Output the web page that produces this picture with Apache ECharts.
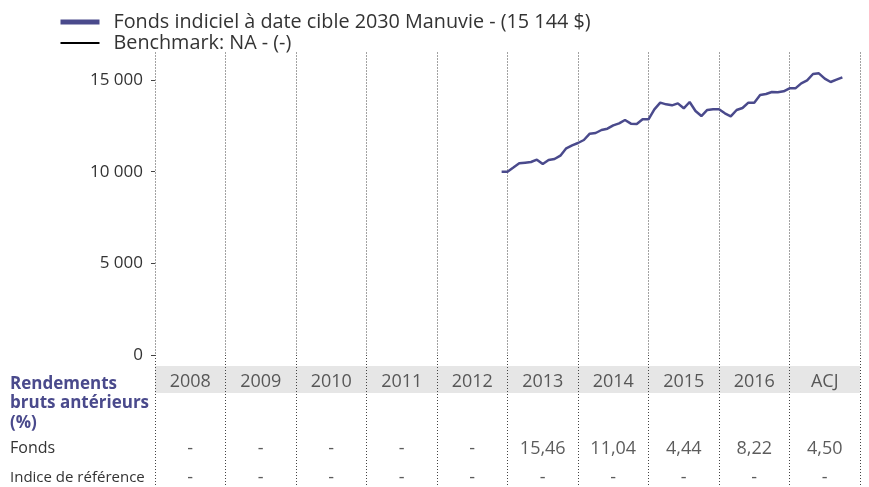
<!DOCTYPE html>
<html>
<head>
<meta charset="utf-8">
<script src="https://cdn.jsdelivr.net/npm/echarts@6/dist/echarts.min.js"></script>
<style>
html,body{margin:0;padding:0;background:#fff;}
#chart{width:869px;height:487px;}
</style>
</head>
<body>
<div id="chart"></div>
<script>
const fundName = 'Fonds indiciel à date cible 2030 Manuvie - (15 144 $)';
const benchName = 'Benchmark: NA - (-)';
const years = ['2008','2009','2010','2011','2012','2013','2014','2015','2016','ACJ'];
const fundReturns = ['-','-','-','-','-','15,46','11,04','4,44','8,22','4,50'];
const benchReturns = ['-','-','-','-','-','-','-','-','-','-'];
const yTicks = [0, 5000, 10000, 15000];
const firstYear = 2008;
const startMonth = '2012-12';
const fundValues = [
  10000, 10000, 10227, 10455, 10491, 10527, 10655, 10418, 10636, 10691,
  10873, 11273, 11436, 11564, 11727, 12073, 12109, 12273, 12345, 12527,
  12636, 12818, 12618, 12600, 12855, 12855, 13400, 13764, 13673, 13618,
  13727, 13455, 13800, 13309, 13036, 13364, 13400, 13400, 13182, 13018,
  13364, 13473, 13764, 13764, 14182, 14236, 14345, 14327, 14382, 14545,
  14545, 14818, 14982, 15327, 15364, 15073, 14891, 15018, 15144
];

const purple = '#4a4a8c';
const textColor = '#333333';
const font = 'Open Sans';

const [sy, sm] = startMonth.split('-').map(Number);
const startIndex = (sy - firstYear) * 12 + (sm - 1);
const fundData = fundValues.map((v, i) => [startIndex + i, v]);

const fmt = v => String(v).replace(/\B(?=(\d{3})+(?!\d))/g, ' ');

// table layout rows (px offsets within the table grid)
const rowYear = 27, rowFund = 94, rowBench = 123;
const tableData = [];
years.forEach((y, i) => tableData.push([i, rowYear, y]));
fundReturns.forEach((t, i) => tableData.push([i, rowFund, t]));
benchReturns.forEach((t, i) => tableData.push([i, rowBench, t]));

const dotted = { type: [1, 2], color: '#444', width: 1 };
const hiddenSymbol = { color: 'rgba(0,0,0,0)', borderColor: 'rgba(0,0,0,0)', borderWidth: 0 };

const chart = echarts.init(document.getElementById('chart'));
chart.setOption({
  animation: false,
  textStyle: { fontFamily: font, color: textColor },
  legend: {
    orient: 'vertical',
    left: 53,
    top: 7,
    itemWidth: 39,
    itemHeight: 14,
    itemGap: 1,
    padding: 5,
    textStyle: { fontFamily: font, fontSize: 19.8, color: textColor, padding: [0, 0, 0, 9] },
    data: [
      { name: fundName, lineStyle: { width: 5 }, itemStyle: hiddenSymbol },
      { name: benchName, lineStyle: { width: 1.8 }, itemStyle: hiddenSymbol }
    ]
  },
  grid: [
    { left: 155, right: 9, top: 52.5, height: 302.5 },
    { left: 155, right: 9, top: 355, bottom: 0 }
  ],
  xAxis: [
    {
      gridIndex: 0, type: 'value', min: 0, max: years.length * 12, interval: 12,
      axisLine: { show: false }, axisTick: { show: false }, axisLabel: { show: false },
      splitLine: { show: true, lineStyle: dotted }
    },
    {
      gridIndex: 1, type: 'category', data: years, boundaryGap: true, z: 5,
      axisLine: { show: false }, axisTick: { show: false }, axisLabel: { show: false },
      splitLine: { show: true, interval: 0, lineStyle: dotted }
    }
  ],
  yAxis: [
    {
      gridIndex: 0, type: 'value', min: 0, max: 16500,
      axisLine: { show: false },
      axisTick: { show: true, length: 4, customValues: yTicks, lineStyle: { color: '#444' } },
      axisLabel: { customValues: yTicks, formatter: fmt, fontSize: 17, color: textColor, margin: 12, fontFamily: font },
      splitLine: { show: false }
    },
    {
      gridIndex: 1, type: 'value', min: 0, max: 132, inverse: true, show: false
    }
  ],
  series: [
    {
      name: fundName, type: 'line', xAxisIndex: 0, yAxisIndex: 0,
      data: fundData, symbol: 'none', showSymbol: false,
      lineStyle: { color: purple, width: 2.5 }, itemStyle: { color: purple }, z: 3
    },
    {
      name: benchName, type: 'line', xAxisIndex: 0, yAxisIndex: 0,
      data: [], symbol: 'none',
      lineStyle: { color: '#000', width: 1.8 }, itemStyle: { color: '#000' }
    },
    {
      type: 'scatter', xAxisIndex: 1, yAxisIndex: 1, z: 2,
      data: tableData, symbolSize: 1, itemStyle: { color: 'rgba(0,0,0,0)' },
      silent: true,
      label: {
        show: true, position: 'inside', formatter: p => p.value[2],
        fontSize: 18, color: textColor, fontFamily: font
      },
      markArea: {
        silent: true,
        itemStyle: { color: '#e6e6e6' },
        data: [[{ yAxis: 11 }, { yAxis: 38 }]]
      }
    }
  ],
  graphic: [
    {
      type: 'text', left: 10, top: 374,
      style: {
        text: 'Rendements\nbruts antérieurs\n(%)',
        fill: purple, font: 'bold 17px "Open Sans"', lineHeight: 19.5
      }
    },
    {
      type: 'text', left: 10, top: 440,
      style: { text: 'Fonds', fill: textColor, font: '16px "Open Sans"' }
    },
    {
      type: 'text', left: 10, top: 470,
      style: { text: 'Indice de référence', fill: textColor, font: '15px "Open Sans"' }
    }
  ]
});
</script>
</body>
</html>
